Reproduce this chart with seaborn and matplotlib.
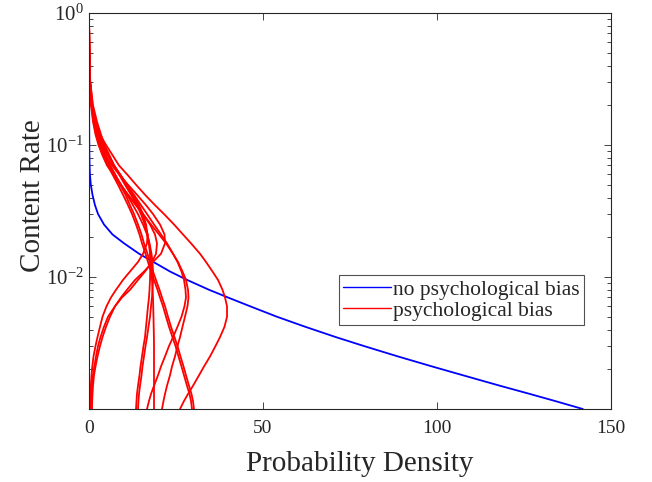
import numpy as np
import pandas as pd
import seaborn as sns
import matplotlib
matplotlib.use("Agg")
import matplotlib.pyplot as plt
from matplotlib.ticker import LogLocator, NullFormatter

content_rate = [1.0, 0.6, 0.4, 0.3, 0.2, 0.15, 0.12, 0.1, 0.085, 0.07, 0.06, 0.05,
                0.042, 0.035, 0.03, 0.025, 0.021, 0.018, 0.015, 0.013, 0.011, 0.0095,
                0.008, 0.007, 0.006, 0.005, 0.0042, 0.0035, 0.003, 0.0025, 0.0021,
                0.0018, 0.0015, 0.0013, 0.00115, 0.001]

no_bias = [0.0, 0.01, 0.02, 0.03, 0.04, 0.05, 0.07, 0.09, 0.11, 0.17, 0.26, 0.52,
           1.0, 1.72, 2.59, 4.3, 6.75, 10.06, 14.4, 18.5, 23.3, 28.2,
           34.5, 39.9, 46.3, 54.0, 62.1, 71.0, 79.0, 88.8, 98.6,
           107.5, 118.1, 126.7, 133.9, 141.9]

bias_curves = [
    [0, .06, .14, .29, .72, 1.72, 3.16, 4.89, 6.61, 8.62, 10.92, 13.51, 16.09, 18.97, 21.55, 24.43, 27.01, 29.31,
     31.90, 33.62, 35.49, 37.07, 38.36, 39.08, 39.66, 39.66, 38.94, 37.64, 36.35, 34.77, 33.05, 31.61, 29.89, 28.45, 27.30, 26.15],
    [0, .06, .14, .29, .86, 1.44, 2.30, 3.16, 4.31, 5.75, 7.18, 9.20, 11.21, 13.51, 15.52, 17.82, 20.12, 22.13,
     24.14, 25.57, 26.87, 27.87, 28.45, 28.59, 28.30, 27.58, 26.87, 26.15, 25.43, 24.71, 23.85, 23.27, 22.41, 21.84, 21.41, 20.97],
    [0, .06, .14, .34, 1.01, 1.87, 2.87, 4.02, 5.46, 7.18, 8.91, 10.92, 12.93, 14.94, 16.67, 18.68, 20.69, 22.41,
     24.14, 25.43, 26.58, 27.30, 27.73, 27.87, 27.44, 26.58, 25.43, 24.14, 22.99, 21.84, 20.69, 19.83, 18.68, 17.82, 17.24, 16.67],
    [0, .06, .14, .29, .72, 1.29, 2.16, 3.16, 4.60, 6.61, 8.62, 11.21, 13.79, 16.38, 18.39, 20.40, 21.70, 21.84,
     20.69, 18.39, 15.80, 13.22, 10.92, 9.20, 7.47, 6.03, 4.89, 3.88, 3.16, 2.44, 1.87, 1.44, 1.15, 1.01, 0.92, 0.86],
    [0, .06, .14, .29, .80, 1.58, 2.59, 3.74, 5.17, 7.18, 8.91, 10.92, 12.64, 14.37, 15.52, 16.38, 16.81, 16.67,
     15.52, 14.08, 11.78, 9.77, 7.76, 6.32, 5.03, 3.88, 3.16, 2.44, 1.87, 1.29, 0.95, 0.72, 0.52, 0.40, 0.34, 0.29],
    [0, .06, .14, .29, .57, 1.15, 1.87, 2.73, 3.74, 5.17, 6.90, 8.91, 11.21, 13.51, 15.52, 17.53, 18.97, 19.54,
     19.25, 18.10, 16.09, 14.08, 11.78, 9.48, 7.47, 5.46, 4.31, 3.30, 2.59, 2.01, 1.52, 1.15, 0.86, 0.72, 0.63, 0.57],
    [0, .06, .14, .29, .86, 1.72, 2.59, 3.45, 4.60, 6.03, 7.47, 8.91, 10.49, 11.78, 12.93, 14.08, 15.09, 15.80,
     16.81, 17.53, 18.39, 19.25, 20.26, 20.98, 21.84, 22.70, 23.56, 24.57, 25.43, 26.29, 27.16, 27.87, 28.74, 29.45, 29.88, 30.17],
    [0, .06, .14, .29, .80, 1.58, 2.30, 3.16, 4.17, 5.46, 6.75, 8.33, 9.77, 11.21, 12.36, 13.51, 14.51, 15.23,
     16.24, 16.95, 17.82, 18.68, 19.68, 20.40, 21.26, 22.13, 22.99, 23.99, 24.86, 25.72, 26.58, 27.30, 28.16, 28.88, 29.31, 29.60],
    [0, .06, .17, .37, 1.15, 2.30, 3.45, 4.45, 5.75, 7.18, 8.62, 10.34, 12.07, 13.79, 14.94, 16.09, 16.81, 17.24,
     17.53, 17.61, 17.59, 17.53, 17.39, 17.24, 16.95, 16.67, 16.38, 16.09, 15.66, 15.23, 14.80, 14.51, 14.08, 13.79, 13.65, 13.51],
    [0, .06, .14, .29, .86, 1.72, 2.73, 3.59, 4.60, 6.03, 7.47, 9.20, 10.92, 12.64, 14.08, 15.52, 16.67, 17.39,
     17.96, 18.25, 18.39, 18.39, 18.25, 18.10, 17.82, 17.53, 17.10, 16.67, 16.24, 15.80, 15.37, 15.09, 14.66, 14.37, 14.22, 14.08],
    [0, .06, .14, .29, .86, 2.01, 3.16, 4.31, 5.60, 7.18, 8.76, 10.63, 12.36, 13.94, 15.09, 16.09, 16.81, 17.24,
     17.67, 17.82, 17.96, 18.10, 18.25, 18.39, 18.45, 18.53, 18.59, 18.65, 18.68, 18.68, 18.68, 18.68, 18.68, 18.68, 18.68, 18.68],
]

labels = ["no psychological bias", "psychological bias"]

rows = []
for r, d in zip(content_rate, no_bias):
    rows.append((d, r, 0, labels[0]))
for i, curve in enumerate(bias_curves):
    for r, d in zip(content_rate, curve):
        rows.append((d, r, i + 1, labels[1]))
df = pd.DataFrame(rows, columns=["density", "rate", "curve", "kind"])

sns.set_style("ticks")
plt.rcParams['font.family'] = ['Liberation Serif', 'DejaVu Serif']
plt.rcParams['mathtext.fontset'] = 'custom'
plt.rcParams['mathtext.rm'] = 'Liberation Serif'
plt.rcParams['mathtext.it'] = 'Liberation Serif:italic'

fig = plt.figure(figsize=(6.52, 4.82), dpi=100)
ax = fig.add_axes([89 / 652, 1 - 409 / 482, 522 / 652, 396 / 482])

sns.lineplot(data=df, x="density", y="rate", units="curve", hue="kind",
             estimator=None, sort=False, hue_order=labels,
             palette={labels[0]: "#0000ff", labels[1]: "#ff0000"},
             linewidth=1.3, ax=ax)

ax.set_yscale("log")
ax.set_xlim(0, 150)
ax.set_ylim(1e-3, 1)
ax.set_xticks([0, 50, 100, 150])
ax.set_yticks([1e-2, 1e-1, 1])
ax.yaxis.set_minor_locator(LogLocator(base=10, subs=np.arange(2, 10)))
ax.yaxis.set_minor_formatter(NullFormatter())

gray = "#262626"
for s in ax.spines.values():
    s.set_visible(True)
    s.set_color(gray)
    s.set_linewidth(0.8)
ax.tick_params(which="both", direction="in", top=True, right=True,
               colors=gray, labelsize=14, width=0.6)
ax.tick_params(axis="y", labelsize=15)
ax.tick_params(which="major", length=5)
ax.tick_params(which="minor", length=3)
ax.tick_params(axis="x", pad=8)

ax.set_xlabel("Probability Density", fontsize=21, color=gray)
ax.set_ylabel("Content Rate", fontsize=21, color=gray)
ax.xaxis.set_label_coords(0.519, -0.105)
ax.yaxis.set_label_coords(-0.082, 0.54)

handles, _ = ax.get_legend_handles_labels()
leg = ax.legend(handles[:2], labels, loc="center", bbox_to_anchor=(0.7136, 0.275),
                fontsize=15.5, frameon=True, fancybox=False, handlelength=2.2,
                handletextpad=0.1, borderpad=0.2, labelspacing=0.05,
                borderaxespad=0)
leg.get_frame().set_edgecolor(gray)
leg.get_frame().set_linewidth(0.8)
for line in leg.get_lines():
    line.set_linewidth(1.0)

fig.savefig("out.png", dpi=100)
